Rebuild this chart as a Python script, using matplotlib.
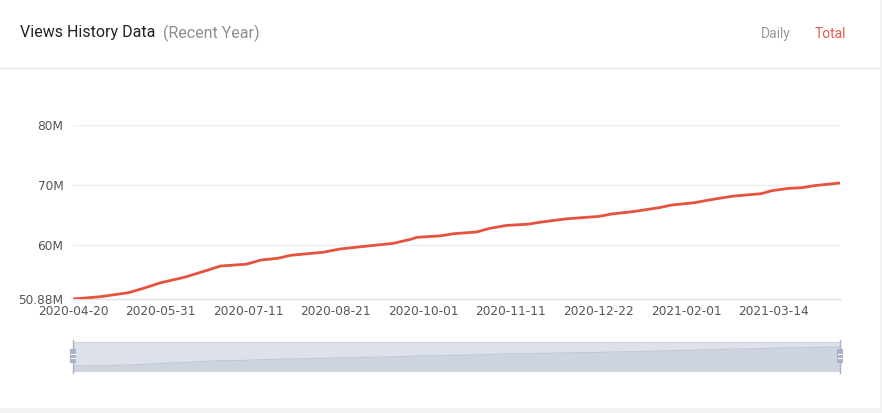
import matplotlib
matplotlib.use("Agg")
import matplotlib.pyplot as plt
import numpy as np
import pandas as pd
from matplotlib.patches import Rectangle

# ---- data ----
dates = ["2020-04-20", "2020-05-03", "2020-05-16", "2020-05-23", "2020-05-31",
         "2020-06-11", "2020-06-22", "2020-06-28", "2020-07-10", "2020-07-17",
         "2020-07-25", "2020-07-31", "2020-08-06", "2020-08-15", "2020-08-23",
         "2020-09-05", "2020-09-17", "2020-09-25", "2020-09-28", "2020-10-09",
         "2020-10-15", "2020-10-26", "2020-11-01", "2020-11-09", "2020-11-19",
         "2020-11-25", "2020-12-07", "2020-12-22", "2020-12-28", "2021-01-07",
         "2021-01-20", "2021-01-25", "2021-02-05", "2021-02-11", "2021-02-16",
         "2021-02-23", "2021-03-08", "2021-03-13", "2021-03-21", "2021-03-27",
         "2021-04-02", "2021-04-14"]
views_m = [50.88, 51.27, 51.94, 52.67, 53.6,
           54.5, 55.7, 56.4, 56.7, 57.4,
           57.7, 58.2, 58.4, 58.7, 59.25,
           59.75, 60.2, 60.87, 61.2, 61.45,
           61.8, 62.1, 62.7, 63.2, 63.4,
           63.75, 64.3, 64.7, 65.1, 65.5,
           66.2, 66.6, 67.0, 67.4, 67.7,
           68.1, 68.5, 69.0, 69.4, 69.5,
           69.85, 70.3]
x_tick_labels = ["2020-04-20", "2020-05-31", "2020-07-11", "2020-08-21", "2020-10-01",
                 "2020-11-11", "2020-12-22", "2021-02-01", "2021-03-14"]
y_ticks = [50.88, 60, 70, 80]
y_tick_labels = ["50.88M", "60M", "70M", "80M"]

W, H = 882, 413
fig = plt.figure(figsize=(W / 100, H / 100), dpi=100)
fig.patch.set_facecolor("white")
plt.rcParams["font.family"] = ["Roboto", "DejaVu Sans"]

def fx(px):
    return px / W

def fy(py):
    return 1 - py / H

# page background strips
fig.patches.append(Rectangle((0, 0), 1, fy(408), transform=fig.transFigure,
                             facecolor="#f3f3f3", edgecolor="none", zorder=0))
fig.patches.append(Rectangle((fx(880), 0), 1 - fx(880), 1, transform=fig.transFigure,
                             facecolor="#f3f3f3", edgecolor="none", zorder=0))
# header separator
fig.add_artist(plt.Line2D([0, fx(880)], [fy(68), fy(68)], transform=fig.transFigure,
                          color="#e6e6e6", lw=1))

# header text
t1 = fig.text(fx(20), fy(33), "Views History Data", fontsize=11.5, color="#222222",
              va="center", ha="left")
fig.canvas.draw()
bb = t1.get_window_extent()
fig.text(bb.x1 / W + fx(8), fy(33), "(Recent Year)", fontsize=11.5, color="#8f8f8f",
         va="center", ha="left")
fig.text(fx(791), fy(34), "Daily", fontsize=10, color="#999999", va="center", ha="right")
fig.text(fx(846), fy(34), "Total", fontsize=10, color="#e35a4f", va="center", ha="right")

# main axes
d = pd.to_datetime(dates)
start = pd.Timestamp("2020-04-20")
end = pd.Timestamp(dates[-1])
ax = fig.add_axes([fx(73), fy(299), fx(840) - fx(73), fy(125) - fy(299)])
ax.plot(d, views_m, color="#e5533f", lw=2.0, solid_capstyle="round", zorder=3)
ax.set_xlim(start, end)
ax.set_ylim(50.88, 80)
ax.set_yticks(y_ticks)
ax.set_yticklabels(y_tick_labels, family="DejaVu Sans")
ax.set_xticks(pd.to_datetime(x_tick_labels))
ax.set_xticklabels(x_tick_labels, family="DejaVu Sans")
for y in y_ticks[1:]:
    ax.axhline(y, color="#eeeeee", lw=0.9, zorder=1)
for s in ["top", "right", "left"]:
    ax.spines[s].set_visible(False)
ax.spines["bottom"].set_color("#e0e0e0")
ax.spines["bottom"].set_linewidth(1)
ax.tick_params(axis="both", length=0, labelsize=8.7, labelcolor="#555555")
ax.tick_params(axis="y", pad=7)
ax.tick_params(axis="x", pad=4.5)
ax.set_facecolor("none")

# data zoom slider
lo, hi = 45.9, 75.3
sz = fig.add_axes([fx(73), fy(371), fx(840) - fx(73), fy(342) - fy(371)])
sz.set_xlim(start, end)
sz.set_ylim(lo, hi)
sz.set_facecolor("#dce1ea")
sz.fill_between(d, lo, views_m, color="#ced4df", lw=0)
sz.plot(d, views_m, color="#c2c9d5", lw=0.8)
sz.set_xticks([])
sz.set_yticks([])
for s in sz.spines.values():
    s.set_color("#cfd6e2")
    s.set_linewidth(0.8)
# handles
for hx in [73, 840]:
    fig.add_artist(plt.Line2D([fx(hx), fx(hx)], [fy(373), fy(340)], transform=fig.transFigure,
                              color="#a9b3c4", lw=1))
    fig.patches.append(Rectangle((fx(hx - 3), fy(363)), fx(6), fy(349) - fy(363),
                                 transform=fig.transFigure, facecolor="#a9b3c7",
                                 edgecolor="none", zorder=5))
    for yy in [354, 358]:
        fig.add_artist(plt.Line2D([fx(hx - 2), fx(hx + 2)], [fy(yy), fy(yy)],
                                  transform=fig.transFigure, color="white", lw=0.8, zorder=6))

fig.savefig("out.png", dpi=100, facecolor="white")
